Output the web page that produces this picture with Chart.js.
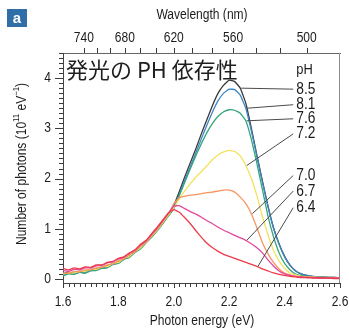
<!DOCTYPE html>
<html>
<head>
<meta charset="utf-8">
<script src="https://cdn.jsdelivr.net/npm/chart.js@4.4.0/dist/chart.umd.min.js"></script>
<style>
  html, body { margin: 0; padding: 0; background: #fff; }
  #wrap { width: 349px; height: 329px; }
</style>
</head>
<body>
<div id="wrap"><canvas id="spectra" width="349" height="329"></canvas></div>
<script>
// photon energy grid (eV)
const energy = [1.60,1.62,1.64,1.66,1.68,1.70,1.72,1.74,1.76,1.78,1.80,1.82,1.84,1.86,1.88,1.90,1.92,1.94,1.96,1.98,
  2.00,2.02,2.04,2.06,2.08,2.10,2.12,2.14,2.16,2.18,2.20,2.22,2.24,2.26,2.28,2.30,2.32,2.34,2.36,2.38,
  2.40,2.42,2.44,2.46,2.48,2.50,2.52,2.54,2.56,2.58,2.60];

// number of photons (10^11 eV^-1) for each pH
const ph85 = [0.11,0.13,0.12,0.15,0.15,0.19,0.20,0.24,0.26,0.31,0.34,0.41,0.46,0.56,0.63,0.75,0.86,0.99,1.13,1.28,
  1.46,1.74,2.04,2.32,2.60,2.90,3.18,3.46,3.70,3.86,3.96,3.93,3.80,3.50,3.00,2.46,1.95,1.45,1.02,0.70,
  0.45,0.27,0.16,0.10,0.07,0.05,0.04,0.04,0.03,0.03,0.02];
const ph81 = [0.08,0.11,0.10,0.13,0.13,0.17,0.17,0.22,0.24,0.29,0.32,0.39,0.44,0.54,0.61,0.73,0.84,0.97,1.11,1.26,
  1.42,1.68,1.97,2.24,2.52,2.80,3.07,3.33,3.55,3.70,3.78,3.77,3.66,3.40,2.95,2.44,1.93,1.44,1.01,0.69,
  0.44,0.27,0.16,0.10,0.07,0.05,0.04,0.04,0.03,0.03,0.02];
const ph76 = [0.06,0.10,0.09,0.13,0.11,0.16,0.17,0.21,0.22,0.29,0.31,0.39,0.43,0.53,0.60,0.72,0.83,0.96,1.10,1.25,
  1.40,1.66,1.93,2.20,2.46,2.70,2.92,3.10,3.24,3.33,3.37,3.36,3.30,3.15,2.78,2.30,1.78,1.25,0.84,0.52,
  0.31,0.18,0.10,0.07,0.05,0.04,0.03,0.03,0.03,0.02,0.02];
const ph72 = [0.10,0.12,0.12,0.15,0.15,0.19,0.19,0.24,0.25,0.31,0.33,0.41,0.45,0.55,0.62,0.74,0.85,0.98,1.12,1.27,
  1.42,1.60,1.76,1.90,2.03,2.14,2.26,2.38,2.47,2.53,2.56,2.54,2.45,2.26,2.00,1.66,1.24,0.88,0.57,0.36,
  0.21,0.12,0.08,0.05,0.04,0.04,0.03,0.03,0.03,0.02,0.02];
const ph70 = [0.12,0.11,0.15,0.14,0.18,0.18,0.22,0.23,0.28,0.30,0.36,0.40,0.48,0.54,0.65,0.73,0.86,0.99,1.13,1.29,
  1.50,1.62,1.65,1.67,1.68,1.70,1.72,1.73,1.75,1.77,1.77,1.73,1.63,1.50,1.30,1.02,0.72,0.50,0.33,0.20,
  0.12,0.08,0.05,0.04,0.03,0.03,0.03,0.02,0.02,0.02,0.02];
const ph67 = [0.17,0.15,0.19,0.18,0.22,0.22,0.26,0.27,0.32,0.34,0.40,0.43,0.51,0.57,0.68,0.76,0.89,1.02,1.16,1.31,
  1.45,1.46,1.40,1.34,1.29,1.23,1.16,1.10,1.03,0.97,0.92,0.87,0.82,0.77,0.70,0.62,0.52,0.38,0.26,0.16,
  0.10,0.07,0.05,0.04,0.03,0.03,0.02,0.02,0.02,0.02,0.02];
const ph64 = [0.21,0.18,0.22,0.20,0.24,0.23,0.28,0.28,0.33,0.35,0.41,0.44,0.52,0.58,0.69,0.77,0.90,1.03,1.17,1.31,
  1.38,1.33,1.22,1.10,0.96,0.83,0.71,0.62,0.55,0.49,0.45,0.41,0.37,0.33,0.29,0.25,0.20,0.16,0.12,0.09,
  0.07,0.05,0.04,0.03,0.03,0.02,0.02,0.02,0.02,0.01,0.01];

const phNames = ["8.5", "8.1", "7.6", "7.2", "7.0", "6.7", "6.4"];
const phSeries = [ph85, ph81, ph76, ph72, ph70, ph67, ph64];
const phColors = ["#3a3a3a", "#3d87c4", "#35a57c", "#f2e25c", "#f79560", "#e2479c", "#ec3a4a"];

// tick labels
const energyLabels = [1.6, 1.8, 2.0, 2.2, 2.4, 2.6];
const countLabels = [0, 1, 2, 3, 4];
const wavelengthTicks = [740, 720, 700, 680, 660, 640, 620, 600, 580, 560, 540, 520, 500];
const wavelengthLabels = [740, 680, 620, 560, 500];

// where each leader line leaves its curve (index into energy) and label height (data units)
const leaderIndex = [32, 33, 33, 33, 34, 33, 35];
const labelLevel = [3.78, 3.47, 3.19, 2.89, 2.06, 1.75, 1.42];

const HC = 1239.84;
const SANS = "'Liberation Sans', Arial, sans-serif";
const INK = "#1c1c1c";
const NARROW = 0.86;

function steps(from, to, step) {
  const out = [];
  const n = Math.round((to - from) / step);
  for (let i = 0; i <= n; i++) out.push(+(from + i * step).toFixed(4));
  return out;
}
function isIn(list, v) {
  return list.some(l => Math.abs(l - v) < 1e-6);
}

// condensed text: the reference uses a narrow grotesque
function say(ctx, s, x, y, size, align) {
  ctx.save();
  ctx.translate(x, y);
  ctx.scale(NARROW, 1);
  ctx.font = size + "px " + SANS;
  ctx.textAlign = align;
  ctx.textBaseline = "middle";
  ctx.fillStyle = INK;
  ctx.fillText(s, 0, 0);
  ctx.restore();
}

// tick marks as 1px filled rectangles
function tickV(ctx, x, y0, len) {
  ctx.fillRect(Math.round(x), Math.min(y0, y0 + len), 1, Math.abs(len));
}
function tickH(ctx, y, x0, len) {
  ctx.fillRect(Math.min(x0, x0 + len), Math.round(y), Math.abs(len), 1);
}

const decorations = {
  id: "decorations",
  afterDraw(chart) {
    const { ctx, chartArea: a, scales } = chart;
    const x = scales.x, y = scales.y;
    ctx.save();

    // right frame line
    ctx.fillStyle = "#8c8c8c";
    ctx.fillRect(Math.round(a.right) - 1, a.top, 1, a.bottom - a.top);

    // tick marks
    ctx.fillStyle = "#3a3a3a";
    steps(1.6, 2.6, 0.02).forEach(v => {
      tickV(ctx, x.getPixelForValue(v), a.bottom, isIn(energyLabels, v) ? 5 : 4);
    });
    steps(0, 4.5, 0.1).forEach(v => {
      tickH(ctx, y.getPixelForValue(v), a.left, isIn(countLabels, v) ? -8 : -4);
    });
    wavelengthTicks.forEach(w => tickV(ctx, x.getPixelForValue(HC / w), a.top, -5));

    // tick labels
    energyLabels.forEach(v => say(ctx, v.toFixed(1), x.getPixelForValue(v), a.bottom + 19, 14, "center"));
    countLabels.forEach(v => say(ctx, String(v), 51, y.getPixelForValue(v), 14, "right"));
    wavelengthLabels.forEach(w => say(ctx, String(w), x.getPixelForValue(HC / w), 38, 14, "center"));

    // panel badge
    ctx.fillStyle = "#2f6ea6";
    ctx.fillRect(7, 9, 20, 18);
    ctx.fillStyle = "#fff";
    ctx.font = "bold 15px " + SANS;
    ctx.textAlign = "center";
    ctx.textBaseline = "middle";
    ctx.fillText("a", 17, 18.5);

    // axis titles
    say(ctx, "Wavelength (nm)", 202, 15, 14, "center");
    say(ctx, "Photon energy (eV)", 202, 321, 14, "center");

    // y title with superscripts
    ctx.save();
    ctx.translate(22, 164);
    ctx.rotate(-Math.PI / 2);
    ctx.scale(NARROW, 1);
    ctx.fillStyle = INK;
    ctx.textBaseline = "middle";
    const parts = [["Number of photons (10", 14, 0], ["11", 9, -5], [" eV", 14, 0], ["\u22121", 9, -5], [")", 14, 0]];
    let total = 0;
    parts.forEach(p => { ctx.font = p[1] + "px " + SANS; total += ctx.measureText(p[0]).width; });
    let cx = -total / 2;
    ctx.textAlign = "left";
    parts.forEach(p => {
      ctx.font = p[1] + "px " + SANS;
      ctx.fillText(p[0], cx, p[2]);
      cx += ctx.measureText(p[0]).width;
    });
    ctx.restore();

    // Japanese heading
    ctx.font = "22px 'Noto Sans CJK JP', sans-serif";
    ctx.textAlign = "left";
    ctx.textBaseline = "middle";
    ctx.fillStyle = "#1e1e1e";
    ctx.fillText("発光の PH 依存性", 66, 70);

    // pH labels and leader lines
    const labelX = x.getPixelForValue(2.442);
    say(ctx, "pH", labelX, y.getPixelForValue(4.17), 15, "left");
    ctx.strokeStyle = "#4a4a4a";
    ctx.lineWidth = 1;
    phNames.forEach((name, i) => {
      const k = leaderIndex[i];
      const ly = y.getPixelForValue(labelLevel[i]);
      ctx.beginPath();
      ctx.moveTo(x.getPixelForValue(energy[k]) + 1, y.getPixelForValue(phSeries[i][k]));
      ctx.lineTo(labelX - 3, ly);
      ctx.stroke();
      say(ctx, name, labelX, ly, 16, "left");
    });
    ctx.restore();
  }
};

// red first in the list so it sits on top
const order = [6, 5, 4, 3, 2, 1, 0];
const datasets = order.map(i => ({
  label: "pH " + phNames[i],
  data: energy.map((e, j) => ({ x: e, y: phSeries[i][j] })),
  borderColor: phColors[i],
  borderWidth: 1.3,
  pointRadius: 0,
  tension: 0.1,
  fill: false
}));

// axes give the frame; ticks and labels are drawn by the plugin
const bareAxis = {
  ticks: { display: false },
  grid: { display: false }
};

new Chart(document.getElementById("spectra"), {
  type: "line",
  data: { datasets },
  options: {
    responsive: false,
    animation: false,
    devicePixelRatio: 1,
    layout: { padding: { left: 0, right: 9, top: 0, bottom: 0 } },
    plugins: { legend: { display: false }, tooltip: { enabled: false } },
    scales: {
      x: {
        ...bareAxis,
        type: "linear",
        position: "bottom",
        min: 1.6,
        max: 2.6,
        afterFit: s => { s.height = 46; },
        border: { color: "#444" }
      },
      x2: {
        ...bareAxis,
        type: "linear",
        position: "top",
        min: 1.6,
        max: 2.6,
        afterFit: s => { s.height = 53; },
        border: { color: "#666" }
      },
      y: {
        ...bareAxis,
        min: -0.08,
        max: 4.5,
        afterFit: s => { s.width = 63; },
        border: { color: "#444" }
      }
    }
  },
  plugins: [decorations]
});
</script>
</body>
</html>
